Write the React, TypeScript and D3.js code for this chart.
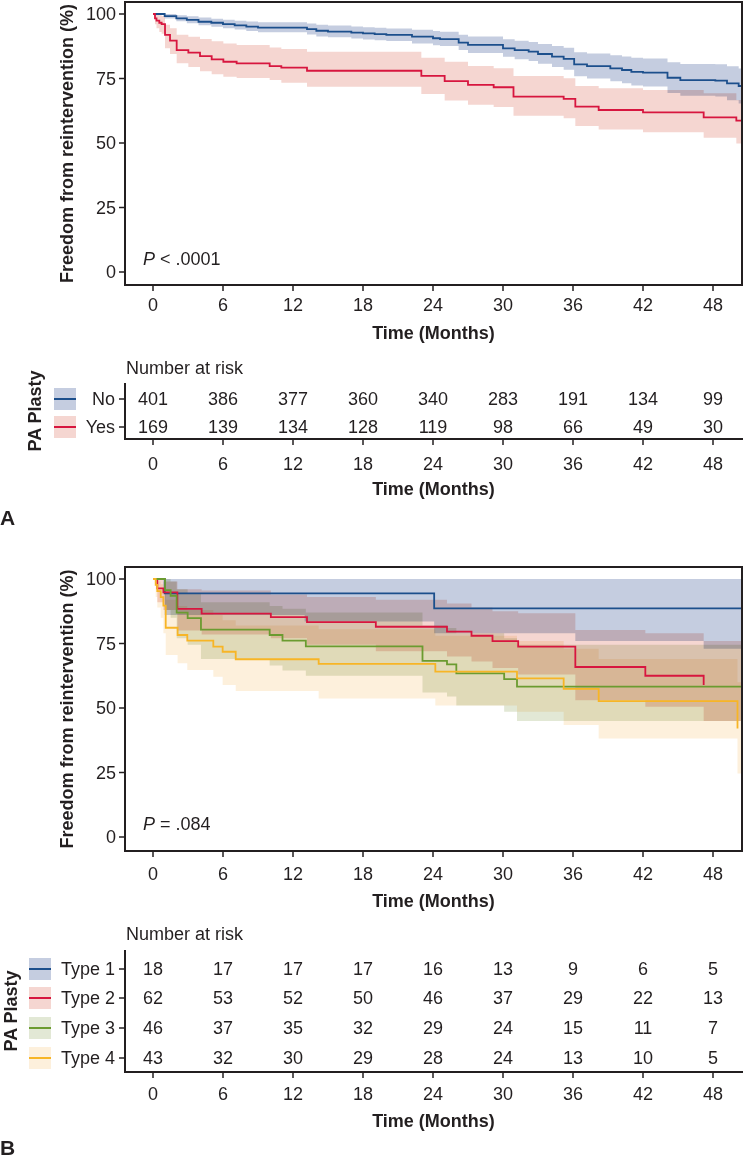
import * as d3 from "d3";

// ---- data ----
const timeTicks = [0, 6, 12, 18, 24, 30, 36, 42, 48];
const survTicks = [0, 25, 50, 75, 100];

// Panel A: PA plasty No / Yes
const noTime = [0, 1.0, 2.0, 2.9, 3.9, 5.0, 6.0, 7.0, 8.0, 9.0, 13.2, 14.0, 15.0, 17.0, 18.0, 19.0, 20.0, 22.2, 24.0, 24.6, 26.2, 27.0, 30.0, 31.0, 32.2, 33.0, 34.2, 35.2, 36.1, 37.2, 39.2, 40.2, 41.0, 42.0, 44.1, 45.2, 48.2, 49.2, 50.2];
const noSurv = [100, 99.2, 98.3, 97.7, 97.0, 96.6, 96.1, 95.6, 95.1, 94.7, 94.1, 93.5, 93.2, 92.8, 92.5, 92.2, 91.9, 91.2, 90.6, 90.3, 88.9, 88.0, 86.7, 86.0, 85.4, 84.5, 83.5, 82.6, 80.5, 79.8, 78.9, 78.3, 77.6, 77.3, 75.3, 74.4, 74.2, 73.1, 72.1];
const noUpper = [100, 100, 99.5, 99.1, 98.6, 98.2, 97.8, 97.4, 97.1, 96.8, 96.3, 95.8, 95.5, 95.2, 94.9, 94.7, 94.4, 93.9, 93.4, 93.1, 92.0, 91.3, 90.2, 89.6, 89.1, 88.4, 87.6, 86.9, 85.2, 84.7, 84.0, 83.5, 83.0, 82.8, 81.3, 80.6, 80.5, 79.7, 78.9];
const noLower = [100, 98.3, 97.2, 96.4, 95.6, 95.1, 94.5, 94.0, 93.4, 92.9, 92.1, 91.3, 91.0, 90.5, 90.1, 89.8, 89.5, 88.6, 87.9, 87.6, 86.0, 84.9, 83.4, 82.5, 81.8, 80.7, 79.5, 78.4, 75.9, 75.0, 73.9, 73.2, 72.3, 71.9, 69.4, 68.3, 68.0, 66.6, 65.3];
const noRisk = [401, 386, 377, 360, 340, 283, 191, 134, 99];

const yesTime = [0, 0.17, 0.3, 0.54, 0.74, 1.03, 1.46, 2.03, 3.03, 4.03, 5.03, 6.03, 7.17, 10.0, 11.0, 13.2, 23.0, 25.0, 27.0, 29.2, 30.9, 35.2, 36.2, 38.2, 42.0, 47.2, 50.0];
const yesSurv = [100, 98.3, 97.4, 96.6, 96.1, 91.9, 89.7, 86.0, 85.0, 83.7, 82.4, 81.5, 80.9, 79.8, 79.2, 78.0, 76.0, 74.0, 72.5, 71.6, 68.0, 67.1, 64.1, 62.8, 61.9, 59.9, 58.7];
const yesUpper = [100, 100, 100, 99.5, 99.2, 95.8, 94.5, 92.0, 91.2, 90.3, 89.4, 88.6, 88.0, 87.0, 86.4, 85.4, 83.0, 81.5, 79.8, 79.0, 76.0, 75.1, 72.1, 71.2, 70.5, 69.3, 66.7];
const yesLower = [100, 96.0, 94.5, 93.0, 92.3, 86.7, 84.5, 80.9, 79.5, 77.8, 76.6, 75.7, 75.2, 74.4, 73.4, 71.8, 69.0, 66.5, 64.8, 64.0, 60.6, 59.6, 56.6, 55.2, 54.2, 52.0, 49.8];
const yesRisk = [169, 139, 134, 128, 119, 98, 66, 49, 30];

// Panel B: PA plasty type
const t1Time = [0, 1.0, 13.0, 24.1, 36.2, 47.2];
const t1Surv = [100, 94.4, 94.4, 88.6, 88.6, 88.6];
const t1Upper = [100, 100, 100, 100, 100, 100];
const t1Lower = [100, 86.0, 83.5, 79.0, 76.0, 73.0];
const t1Risk = [18, 17, 17, 17, 16, 13, 9, 6, 5];

const t2Time = [0, 0.37, 0.89, 2.09, 4.17, 10.1, 13.2, 19.1, 25.2, 27.3, 29.1, 31.3, 36.2, 42.2, 47.2];
const t2Surv = [100, 96.4, 94.8, 88.4, 86.6, 85.2, 83.3, 81.5, 79.6, 78.0, 75.9, 73.8, 65.9, 62.5, 58.9];
const t2Upper = [100, 100, 99.0, 96.0, 95.5, 94.0, 93.0, 92.0, 90.5, 89.0, 87.5, 86.7, 80.2, 79.0, 76.0];
const t2Lower = [100, 91.0, 88.0, 80.0, 78.5, 77.0, 74.5, 72.0, 70.0, 68.0, 65.5, 63.0, 53.0, 50.5, 45.0];
const t2Risk = [62, 53, 52, 50, 46, 37, 29, 22, 13];

const t3Time = [0, 1.03, 1.51, 2.03, 2.97, 4.11, 10.0, 11.1, 13.1, 23.1, 25.2, 26.0, 30.1, 31.2];
const t3Surv = [100, 95.7, 93.5, 87.0, 84.8, 80.4, 78.3, 76.1, 73.9, 68.3, 66.9, 63.4, 61.2, 58.3];
const t3Upper = [100, 100, 99.0, 96.0, 94.5, 91.0, 89.5, 88.5, 87.0, 82.0, 81.0, 79.0, 77.0, 74.5];
const t3Lower = [100, 88.0, 85.0, 77.0, 74.5, 69.0, 66.5, 64.5, 62.5, 56.0, 54.5, 51.0, 48.5, 45.0];
const t3Risk = [46, 37, 35, 32, 29, 24, 15, 11, 7];

const t4Time = [0, 0.23, 0.37, 0.66, 0.89, 1.09, 2.11, 2.94, 5.17, 5.97, 7.09, 14.2, 24.2, 31.2, 35.2, 38.2, 50.1];
const t4Surv = [100, 97.7, 95.3, 93.0, 89.7, 81.1, 78.3, 76.1, 73.8, 71.8, 68.9, 67.1, 64.1, 61.5, 57.4, 52.7, 42.1];
const t4Upper = [100, 100, 99.0, 98.0, 96.0, 92.0, 89.5, 88.0, 86.0, 84.0, 82.0, 80.5, 78.0, 76.0, 73.0, 69.0, 60.0];
const t4Lower = [100, 93.0, 89.0, 85.0, 79.0, 70.5, 67.3, 64.7, 62.1, 58.9, 56.6, 53.7, 51.0, 48.5, 43.4, 38.2, 24.6];
const t4Risk = [43, 32, 30, 29, 28, 24, 13, 10, 5];

// ---- styles ----
const INK = "#231f20";
const FONT = "'Liberation Sans', Arial, Helvetica, sans-serif";
const BLUE = "#1c4f8c";
const RED = "#d7163f";
const GREEN = "#6b9b30";
const YELLOW = "#f7b526";
const BLUE_BAND = "#c5cde0";
const RED_BAND = "#f5d6d1";
const GREEN_BAND = "#e2e8d5";
const YELLOW_BAND = "#fdf0dc";

type Series = {
  name: string;
  time: number[];
  surv: number[];
  lower: number[];
  upper: number[];
  risk: number[];
  line: string;
  band: string;
  lineEnd?: number;
};

const panelA: Series[] = [
  { name: "No", time: noTime, surv: noSurv, lower: noLower, upper: noUpper, risk: noRisk, line: BLUE, band: BLUE_BAND },
  { name: "Yes", time: yesTime, surv: yesSurv, lower: yesLower, upper: yesUpper, risk: yesRisk, line: RED, band: RED_BAND },
];

const panelB: Series[] = [
  { name: "Type 1", time: t1Time, surv: t1Surv, lower: t1Lower, upper: t1Upper, risk: t1Risk, line: BLUE, band: BLUE_BAND },
  { name: "Type 2", time: t2Time, surv: t2Surv, lower: t2Lower, upper: t2Upper, risk: t2Risk, line: RED, band: RED_BAND, lineEnd: 47.2 },
  { name: "Type 3", time: t3Time, surv: t3Surv, lower: t3Lower, upper: t3Upper, risk: t3Risk, line: GREEN, band: GREEN_BAND },
  { name: "Type 4", time: t4Time, surv: t4Surv, lower: t4Lower, upper: t4Upper, risk: t4Risk, line: YELLOW, band: YELLOW_BAND, lineEnd: 50.1 },
];

const FRAME_L = 125;
const FRAME_R = 742;
const x = d3.scaleLinear().domain([0, 48]).range([153, 713]);
const T_END = x.invert(FRAME_R);

type Layout = {
  id: string;
  letter: string;
  pText: string;
  frameTop: number;
  frameBottom: number;
  y100: number;
  y0: number;
  tickLabelY: number;
  xTitleY: number;
  pY: number;
  nrY: number;
  rowY: number[];
  tableTop: number;
  tableBottom: number;
  tableTickY: number;
  tableTitleY: number;
  letterY: number;
  swatchX: number;
  groupX: number;
};

function Panel({ series, L }: { series: Series[]; L: Layout }) {
  const y = d3.scaleLinear().domain([0, 100]).range([L.y0, L.y100]);
  const mid = (L.frameTop + L.frameBottom) / 2;
  const tMid = (L.tableTop + L.tableBottom) / 2;
  const cx = (FRAME_L + FRAME_R) / 2;

  const line = d3
    .line<[number, number]>()
    .x((d) => x(d[0]))
    .y((d) => y(d[1]))
    .curve(d3.curveStepAfter);
  const area = d3
    .area<[number, number, number]>()
    .x((d) => x(d[0]))
    .y0((d) => y(d[1]))
    .y1((d) => y(d[2]))
    .curve(d3.curveStepAfter);

  return (
    <g fontFamily={FONT} fill={INK}>
      <defs>
        <clipPath id={`clip-${L.id}`}>
          <rect x={FRAME_L} y={L.frameTop} width={FRAME_R - FRAME_L} height={L.frameBottom - L.frameTop} />
        </clipPath>
      </defs>
      <g clipPath={`url(#clip-${L.id})`}>
        {series.map((s) => {
          const pts: [number, number, number][] = s.time.map((t, i) => [t, s.lower[i], s.upper[i]]);
          pts.push([T_END, s.lower[s.lower.length - 1], s.upper[s.upper.length - 1]]);
          return <path key={s.name + "b"} d={area(pts) || ""} fill={s.band} stroke="none" style={{ mixBlendMode: "multiply" }} />;
        })}
        {series.map((s) => {
          const pts: [number, number][] = s.time.map((t, i) => [t, s.surv[i]]);
          pts.push([s.lineEnd ?? T_END, s.surv[s.surv.length - 1]]);
          return <path key={s.name + "l"} d={line(pts) || ""} fill="none" stroke={s.line} strokeWidth={1.8} />;
        })}
      </g>
      <rect x={FRAME_L} y={L.frameTop} width={FRAME_R - FRAME_L} height={L.frameBottom - L.frameTop} fill="none" stroke={INK} strokeWidth={2} />
      {survTicks.map((v) => (
        <g key={v}>
          <line x1={FRAME_L - 6} x2={FRAME_L} y1={y(v)} y2={y(v)} stroke={INK} strokeWidth={1.5} />
          <text x={FRAME_L - 9} y={y(v)} textAnchor="end" dominantBaseline="central" fontSize={18}>
            {v}
          </text>
        </g>
      ))}
      {timeTicks.map((t) => (
        <g key={t}>
          <line x1={x(t)} x2={x(t)} y1={L.frameBottom} y2={L.frameBottom + 6} stroke={INK} strokeWidth={1.5} />
          <text x={x(t)} y={L.tickLabelY} textAnchor="middle" fontSize={18}>
            {t}
          </text>
        </g>
      ))}
      <text transform={`translate(73,${mid}) rotate(-90)`} textAnchor="middle" fontSize={18} fontWeight="bold">
        Freedom from reintervention (%)
      </text>
      <text x={cx} y={L.xTitleY} textAnchor="middle" fontSize={18} fontWeight="bold">
        Time (Months)
      </text>
      <text x={143} y={L.pY} fontSize={18}>
        <tspan fontStyle="italic">P</tspan>
        {L.pText}
      </text>

      {/* number at risk table */}
      <text x={126} y={L.nrY} fontSize={18}>
        Number at risk
      </text>
      <line x1={FRAME_L} x2={FRAME_L} y1={L.tableTop} y2={L.tableBottom} stroke={INK} strokeWidth={2} />
      <line x1={FRAME_L - 1} x2={743} y1={L.tableBottom} y2={L.tableBottom} stroke={INK} strokeWidth={2} />
      {series.map((s, i) => (
        <g key={s.name}>
          <line x1={FRAME_L - 6} x2={FRAME_L} y1={L.rowY[i]} y2={L.rowY[i]} stroke={INK} strokeWidth={1.5} />
          <rect x={L.swatchX} y={L.rowY[i] - 11} width={22} height={22} fill={s.band} />
          <line x1={L.swatchX} x2={L.swatchX + 22} y1={L.rowY[i]} y2={L.rowY[i]} stroke={s.line} strokeWidth={2} />
          <text x={115} y={L.rowY[i]} textAnchor="end" dominantBaseline="central" fontSize={18}>
            {s.name}
          </text>
          {s.risk.map((n, j) => (
            <text key={j} x={x(timeTicks[j])} y={L.rowY[i]} textAnchor="middle" dominantBaseline="central" fontSize={18}>
              {n}
            </text>
          ))}
        </g>
      ))}
      {timeTicks.map((t) => (
        <g key={"tt" + t}>
          <line x1={x(t)} x2={x(t)} y1={L.tableBottom} y2={L.tableBottom + 6} stroke={INK} strokeWidth={1.5} />
          <text x={x(t)} y={L.tableTickY} textAnchor="middle" fontSize={18}>
            {t}
          </text>
        </g>
      ))}
      <text x={cx} y={L.tableTitleY} textAnchor="middle" fontSize={18} fontWeight="bold">
        Time (Months)
      </text>
      <text transform={`translate(${L.groupX},${tMid}) rotate(-90)`} textAnchor="middle" fontSize={18} fontWeight="bold">
        PA Plasty
      </text>
      <text x={0} y={L.letterY} fontSize={21} fontWeight="bold">
        {L.letter}
      </text>
    </g>
  );
}

const layoutA: Layout = {
  id: "a",
  letter: "A",
  pText: " < .0001",
  frameTop: 2,
  frameBottom: 285,
  y100: 14,
  y0: 272,
  tickLabelY: 311,
  xTitleY: 339,
  pY: 265,
  nrY: 374,
  rowY: [399, 427],
  tableTop: 383,
  tableBottom: 439,
  tableTickY: 470,
  tableTitleY: 495,
  letterY: 525,
  swatchX: 54,
  groupX: 41,
};

const layoutB: Layout = {
  id: "b",
  letter: "B",
  pText: " = .084",
  frameTop: 567,
  frameBottom: 851,
  y100: 579,
  y0: 837,
  tickLabelY: 880,
  xTitleY: 907,
  pY: 830,
  nrY: 940,
  rowY: [969, 998, 1028, 1058],
  tableTop: 950,
  tableBottom: 1072,
  tableTickY: 1100,
  tableTitleY: 1127,
  letterY: 1155,
  swatchX: 29,
  groupX: 17,
};

export default function App() {
  return (
    <div style={{ position: "absolute", left: 0, top: 0, background: "#fff" }}>
      <svg width={743} height={1162} viewBox="0 0 743 1162" style={{ display: "block" }}>
        <rect width={743} height={1162} fill="#fff" />
        <Panel series={panelA} L={layoutA} />
        <Panel series={panelB} L={layoutB} />
      </svg>
    </div>
  );
}
